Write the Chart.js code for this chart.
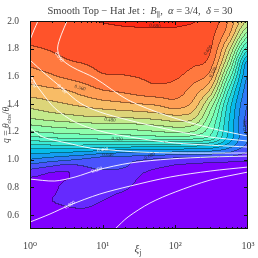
<!DOCTYPE html>
<html>
<head>
<meta charset="utf-8">
<script src="https://cdn.jsdelivr.net/npm/chart.js@4.4.1/dist/chart.umd.min.js"></script>
<style>
  html, body { margin: 0; padding: 0; background: #fff; }
</style>
</head>
<body>
<canvas id="chart" width="258" height="258"></canvas>
<script>
// grid of the filled field: columns are log10(xi_j), rows are q (top to bottom)
const logXi = [0, 0.25, 0.5, 0.75, 1, 1.25, 1.5, 1.75, 2, 2.25, 2.5, 2.75, 3];
const qRows = [2.0, 1.9, 1.8, 1.7, 1.6, 1.5, 1.4, 1.3, 1.2, 1.15, 1.1, 1.05, 1.0, 0.95, 0.9, 0.8, 0.7, 0.6, 0.5];
// field value in units of contour level (band k sits between k and k+1)
const levelGrid = [
  [17.6, 17.7, 17.8, 17.9, 18.05, 18.15, 18.2, 18.2, 18.15, 18.05, 17.6, 15.8, 12.8],
  [17.3, 17.4, 17.5, 17.55, 17.6, 17.7, 17.75, 17.8, 17.8, 17.6, 17.25, 15.0, 10.5],
  [16.9, 17.05, 17.2, 17.3, 17.4, 17.45, 17.5, 17.55, 17.5, 17.4, 17.0, 13.2, 7.5],
  [16.25, 16.6, 16.9, 17.05, 17.2, 17.25, 17.3, 17.35, 17.35, 17.2, 16.4, 11.5, 4.6],
  [15.5, 15.8, 16.2, 16.5, 16.9, 16.95, 17.05, 17.2, 17.15, 16.5, 15.3, 9.5, 3.9],
  [14.6, 14.8, 15.0, 15.5, 16.0, 16.2, 16.5, 16.7, 16.5, 15.6, 13.6, 7.7, 3.4],
  [13.4, 13.7, 14.0, 14.3, 14.6, 14.8, 15.0, 15.2, 15.6, 14.7, 11.5, 6.5, 3.0],
  [12.1, 12.4, 12.6, 12.8, 12.9, 13.0, 13.1, 13.3, 13.6, 13.2, 10.2, 6.0, 2.7],
  [10.0, 10.3, 10.5, 10.6, 10.7, 10.7, 10.8, 11.0, 11.3, 11.0, 9.2, 5.8, 2.8],
  [8.6, 8.8, 9.0, 9.1, 9.2, 9.2, 9.3, 9.4, 9.5, 9.2, 8.4, 5.5, 3.0],
  [6.7, 6.9, 7.0, 6.9, 6.8, 6.7, 6.6, 6.6, 6.5, 6.3, 6.0, 4.5, 2.8],
  [5.3, 5.2, 5.0, 4.8, 4.4, 4.2, 4.1, 4.0, 3.9, 3.8, 3.6, 3.0, 2.0],
  [4.0, 3.6, 3.3, 2.9, 2.5, 2.4, 2.2, 1.9, 1.7, 1.6, 1.5, 1.4, 1.2],
  [2.6, 2.1, 1.7, 2.0, 2.3, 2.2, 1.6, 1.2, 0.9, 0.8, 0.7, 0.6, 0.5],
  [1.3, 1.0, 0.9, 1.6, 1.7, 1.6, 1.1, 0.7, 0.5, 0.4, 0.3, 0.3, 0.3],
  [0.5, 0.7, 1.2, 1.45, 1.35, 1.2, 0.8, 0.5, 0.3, 0.2, 0.2, 0.2, 0.2],
  [0.3, 0.9, 1.15, 1.2, 1.0, 0.7, 0.5, 0.3, 0.2, 0.1, 0.1, 0.1, 0.1],
  [0.2, 0.4, 0.7, 0.8, 0.6, 0.4, 0.3, 0.2, 0.1, 0.1, 0.1, 0.1, 0.1],
  [0.1, 0.2, 0.3, 0.4, 0.3, 0.2, 0.1, 0.1, 0.1, 0.1, 0.1, 0.1, 0.1]
];
const nLevels = 20;

// white contour lines, [log10 xi, q]
const white020 = [[0.11, 2.0], [0.055, 1.935], [0, 1.863]];
const white050 = [[0.51, 2.0], [0.43, 1.90], [0.38, 1.805], [0.42, 1.733], [0.58, 1.668], [0.89, 1.589], [1.35, 1.43], [1.9, 1.315], [2.48, 1.228], [3.0, 1.17]];
const white100 = [[0, 1.718], [0.21, 1.618], [0.44, 1.517], [0.69, 1.408], [0.96, 1.344], [1.35, 1.286], [2.0, 1.207], [2.48, 1.163], [3.0, 1.134]];
const white200 = [[0, 1.618], [0.08, 1.545], [0.18, 1.473], [0.34, 1.372], [0.62, 1.271], [0.96, 1.207], [1.38, 1.163], [2.0, 1.12], [3.0, 1.091]];
const white400 = [[0, 1.228], [0.18, 1.163], [0.51, 1.12], [0.83, 1.084], [1.1, 1.07], [1.51, 1.055], [2.06, 1.048], [3.0, 1.048]];
const white600 = [[0, 0.86], [0.34, 0.846], [0.62, 0.875], [0.92, 0.925], [1.38, 0.976], [1.93, 1.005], [2.48, 1.019], [3.0, 1.026]];
const white800 = [[0, 0.55], [0.275, 0.608], [0.55, 0.673], [0.96, 0.752], [1.38, 0.81], [1.93, 0.875], [2.48, 0.918], [3.0, 0.947]];
const white900 = [[1.17, 0.5], [1.35, 0.587], [1.65, 0.687], [2.0, 0.767], [2.48, 0.853], [3.0, 0.911]];
const whiteCurves = [white020, white050, white100, white200, white400, white600, white800, white900];

// inline contour labels
const whiteLabelText = ['0.050', '0.100', '0.200', '0.400', '0.600', '0.800'];
const whiteLabelAt = [[0.40, 1.74], [0.44, 1.51], [0.04, 1.56], [1.0, 1.07], [0.92, 0.925], [0.55, 0.673]];
const whiteLabelTilt = [50, 45, 65, -8, -18, -30];
const blackLabelText = ['0.680', '0.560', '0.480', '0.320', '0.040', '0.600', '0.520', '0.080', '0.000'];
const blackLabelAt = [[1.72, 1.964], [0.69, 1.517], [1.1, 1.286], [1.2, 1.149], [1.07, 1.034], [2.45, 1.79], [2.52, 1.63], [1.65, 1.026], [2.96, 1.25]];
const blackLabelTilt = [5, 15, 5, 3, 0, -55, -60, -25, -88];

const yTicks = [0.6, 0.8, 1.0, 1.2, 1.4, 1.6, 1.8, 2.0];
const xTicks = [1, 10, 100, 1000];
const sup = ['\u2070', '\u00b9', '\u00b2', '\u00b3'];

const serif = "'Liberation Serif', 'DejaVu Serif', serif";
const textGray = '#444';

function rainbow(t) {
  const r = Math.min(1, Math.abs(2 * t - 0.5));
  const g = Math.sin(Math.PI * t);
  const b = Math.cos(Math.PI * t / 2);
  return [Math.round(r * 255), Math.round(g * 255), Math.round(b * 255)];
}
const bandColors = [];
for (let k = 0; k < nLevels; k++) bandColors.push(rainbow(k / (nLevels - 1)));

function catmull(p0, p1, p2, p3, t) {
  return 0.5 * (2 * p1 + (p2 - p0) * t + (2 * p0 - 5 * p1 + 4 * p2 - p3) * t * t + (3 * p1 - p0 - 3 * p2 + p3) * t * t * t);
}

// smooth (bicubic) read of the grid in index space
function sample(L, q) {
  const nc = logXi.length, nr = qRows.length;
  let fc = (L - logXi[0]) / (logXi[1] - logXi[0]);
  fc = Math.max(0, Math.min(nc - 1.0001, fc));
  let r = 0;
  while (r < nr - 2 && q < qRows[r + 1]) r++;
  const fr = r + Math.max(0, Math.min(0.9999, (qRows[r] - q) / (qRows[r] - qRows[r + 1])));
  const c = Math.floor(fc), rr = Math.floor(fr);
  const tx = fc - c, ty = fr - rr;
  const at = (i, j) => levelGrid[Math.max(0, Math.min(nr - 1, j))][Math.max(0, Math.min(nc - 1, i))];
  const col = [];
  for (let j = -1; j <= 2; j++) {
    col.push(catmull(at(c - 1, rr + j), at(c, rr + j), at(c + 1, rr + j), at(c + 2, rr + j), tx));
  }
  return catmull(col[0], col[1], col[2], col[3], ty);
}

const fieldPlugin = {
  id: 'field',
  beforeDatasetsDraw(chart) {
    const {ctx, chartArea: a, scales: {x, y}} = chart;
    const x0 = Math.round(a.left), y0 = Math.round(a.top);
    const w = Math.round(a.right) - x0, h = Math.round(a.bottom) - y0;
    const band = new Int16Array(w * h);
    for (let j = 0; j < h; j++) {
      const q = y.getValueForPixel(y0 + j + 0.5);
      for (let i = 0; i < w; i++) {
        const L = Math.log10(x.getValueForPixel(x0 + i + 0.5));
        const v = Math.floor(sample(L, q));
        band[j * w + i] = Math.max(0, Math.min(nLevels - 1, v));
      }
    }
    const img = ctx.createImageData(w, h);
    for (let j = 0; j < h; j++) {
      for (let i = 0; i < w; i++) {
        const k = j * w + i;
        const c = bandColors[band[k]];
        const edge = (i < w - 1 && band[k + 1] !== band[k]) || (j < h - 1 && band[k + w] !== band[k]);
        const f = edge ? 0.6 : 1;
        img.data[k * 4] = c[0] * f;
        img.data[k * 4 + 1] = c[1] * f;
        img.data[k * 4 + 2] = c[2] * f;
        img.data[k * 4 + 3] = 255;
      }
    }
    ctx.putImageData(img, x0, y0);
  }
};

function drawRuns(ctx, runs, x, y, size, align) {
  // runs: [text, style] with style 'r' roman, 'i' italic, 's' subscript
  const fontFor = st => (st === 'i' ? 'italic ' : '') + (st === 's' ? size * 0.7 : size) + 'px ' + serif;
  let total = 0;
  runs.forEach(([t, st]) => { ctx.font = fontFor(st); total += ctx.measureText(t).width; });
  let cx = align === 'center' ? x - total / 2 : x;
  runs.forEach(([t, st]) => {
    ctx.font = fontFor(st);
    ctx.fillText(t, cx, st === 's' ? y + size * 0.25 : y);
    cx += ctx.measureText(t).width;
  });
}

const decorPlugin = {
  id: 'decor',
  afterDatasetsDraw(chart) {
    const {ctx, scales: {x, y}} = chart;
    ctx.save();
    ctx.textAlign = 'center';
    ctx.textBaseline = 'middle';
    ctx.font = '5px ' + serif;
    const put = (texts, at, tilt, color) => {
      texts.forEach((t, n) => {
        ctx.save();
        ctx.translate(x.getPixelForValue(Math.pow(10, at[n][0])), y.getPixelForValue(at[n][1]));
        ctx.rotate(tilt[n] * Math.PI / 180);
        ctx.fillStyle = color;
        ctx.fillText(t, 0, 0);
        ctx.restore();
      });
    };
    put(blackLabelText, blackLabelAt, blackLabelTilt, 'rgba(30,30,30,0.85)');
    put(whiteLabelText, whiteLabelAt, whiteLabelTilt, '#ffffff');
    ctx.restore();
  },
  afterDraw(chart) {
    const {ctx, chartArea: a, scales: {x, y}} = chart;
    ctx.save();
    ctx.strokeStyle = '#111';
    ctx.lineWidth = 1;
    ctx.strokeRect(a.left + 0.5, a.top + 0.5, a.right - a.left - 1, a.bottom - a.top - 1);
    ctx.beginPath();
    for (let d = 0; d < 3; d++) {
      for (let m = 1; m < 10; m++) {
        const px = Math.round(x.getPixelForValue(m * Math.pow(10, d))) + 0.5;
        const len = m === 1 ? 4 : 2;
        ctx.moveTo(px, a.bottom); ctx.lineTo(px, a.bottom - len);
        ctx.moveTo(px, a.top); ctx.lineTo(px, a.top + len);
      }
    }
    yTicks.forEach(v => {
      const py = Math.round(y.getPixelForValue(v)) + 0.5;
      ctx.moveTo(a.left, py); ctx.lineTo(a.left + 4, py);
      ctx.moveTo(a.right, py); ctx.lineTo(a.right - 4, py);
    });
    ctx.stroke();

    ctx.fillStyle = textGray;
    ctx.textBaseline = 'alphabetic';
    drawRuns(ctx, [['Smooth Top \u2212 Hat Jet :  ', 'r'], ['B', 'i'], ['\u2225', 's'], [',  ', 'r'], ['\u03b1', 'i'], [' = 3/4,  ', 'r'], ['\u03b4', 'i'], [' = 30', 'r']], 140, 14, 10.5, 'center');
    drawRuns(ctx, [['\u03be', 'i'], ['j', 's']], 138, 252, 11, 'center');
    ctx.save();
    ctx.translate(9, 124);
    ctx.rotate(-Math.PI / 2);
    drawRuns(ctx, [['q', 'i'], [' = ', 'r'], ['\u03b8', 'i'], ['obs', 's'], ['/', 'r'], ['\u03b8', 'i'], ['j', 's']], 0, 0, 9.5, 'center');
    ctx.restore();
    ctx.restore();
  }
};

const datasets = whiteCurves.map(curve => ({
  type: 'line',
  data: curve.map(p => ({x: Math.pow(10, p[0]), y: p[1]})),
  borderColor: 'rgba(255,255,255,0.9)',
  borderWidth: 1,
  pointRadius: 0,
  tension: 0.3,
  fill: false
}));

new Chart(document.getElementById('chart'), {
  type: 'scatter',
  data: {datasets},
  options: {
    responsive: false,
    animation: false,
    devicePixelRatio: 1,
    layout: {padding: {left: 0, right: 10, top: 21, bottom: 0}},
    plugins: {legend: {display: false}, tooltip: {enabled: false}, title: {display: false}},
    scales: {
      x: {
        type: 'logarithmic', min: 1, max: 1000,
        afterBuildTicks: s => { s.ticks = xTicks.map(v => ({value: v})); },
        afterFit: s => { s.height = 29; },
        grid: {display: false},
        border: {display: false},
        ticks: {
          autoSkip: false, maxRotation: 0, padding: 3, color: textGray,
          font: {family: serif, size: 10},
          callback: v => '10' + sup[Math.round(Math.log10(v))]
        }
      },
      y: {
        type: 'linear', min: 0.5, max: 2.0,
        afterBuildTicks: s => { s.ticks = yTicks.map(v => ({value: v})); },
        afterFit: s => { s.width = 30; },
        grid: {display: false},
        border: {display: false},
        ticks: {
          padding: 3, color: textGray,
          font: {family: serif, size: 9.5},
          callback: v => v.toFixed(1)
        }
      }
    }
  },
  plugins: [fieldPlugin, decorPlugin]
});
</script>
</body>
</html>
